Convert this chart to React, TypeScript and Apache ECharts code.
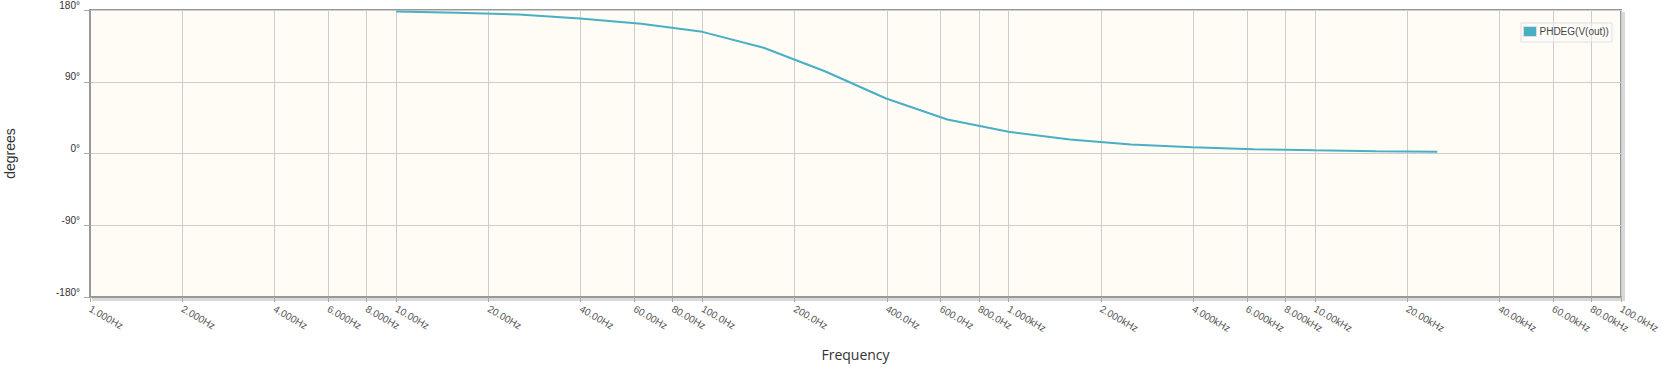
import React, { useEffect, useRef } from "react";
import * as echarts from "echarts";

const tickFreqs = [1, 2, 4, 6, 8, 10, 20, 40, 60, 80, 100, 200, 400, 600, 800, 1000, 2000, 4000, 6000, 8000, 10000, 20000, 40000, 60000, 80000, 100000];
const tickLabels = ["1.000Hz", "2.000Hz", "4.000Hz", "6.000Hz", "8.000Hz", "10.00Hz", "20.00Hz", "40.00Hz", "60.00Hz", "80.00Hz", "100.0Hz", "200.0Hz", "400.0Hz", "600.0Hz", "800.0Hz", "1.000kHz", "2.000kHz", "4.000kHz", "6.000kHz", "8.000kHz", "10.00kHz", "20.00kHz", "40.00kHz", "60.00kHz", "80.00kHz", "100.0kHz"];

const freqHz = [10, 15.85, 25.12, 39.81, 63.1, 100, 158.5, 251.2, 398.1, 631, 1000, 1585, 2512, 3981, 6310, 10000, 15850, 25120];
const phaseDeg = [178.1, 176.5, 174.4, 169.3, 162.7, 152.6, 132.6, 103.2, 69.0, 42.6, 27.2, 17.6, 11.3, 7.9, 5.4, 4.1, 2.9, 2.1];

const seriesName = "PHDEG(V(out))";

export default function App() {
  const ref = useRef<HTMLDivElement>(null);
  useEffect(() => {
    if (!ref.current) return;
    const chart = echarts.init(ref.current, null, { renderer: "svg" });
    const tickPos = tickFreqs.map((f) => Math.log10(f));
    const labelFor = (v: number) => {
      let best = 0;
      let bd = Infinity;
      tickPos.forEach((p, i) => {
        const d = Math.abs(p - v);
        if (d < bd) {
          bd = d;
          best = i;
        }
      });
      return tickLabels[best];
    };
    chart.setOption({
      animation: false,
      backgroundColor: "#ffffff",
      grid: {
        left: 90,
        top: 10,
        right: 41,
        bottom: 77,
        containLabel: false,
        outerBoundsMode: "none",
        show: true,
        backgroundColor: "#FFFCF5",
        borderColor: "#999999",
        borderWidth: 2,
        shadowColor: "rgba(0,0,0,0.15)",
        shadowOffsetX: 3,
        shadowOffsetY: 3,
        shadowBlur: 0,
      },
      legend: {
        show: true,
        left: 1521,
        top: 23,
        orient: "vertical",
        data: [seriesName],
        icon: "rect",
        itemWidth: 13,
        itemHeight: 10,
        itemGap: 0,
        padding: [3, 3, 5, 2],
        backgroundColor: "rgba(255,255,255,0.4)",
        borderColor: "#e0e0e0",
        borderWidth: 1,
        borderRadius: 0,
        itemStyle: { borderColor: "#dddddd", borderWidth: 1 },
        textStyle: {
          fontFamily: "Liberation Sans",
          fontSize: 10,
          color: "#444",
          padding: [0, 0, 8, -2],
        },
      },
      xAxis: {
        type: "value",
        min: 0,
        max: 5,
        name: "Frequency",
        nameLocation: "middle",
        nameGap: 50,
        nameTextStyle: { fontFamily: "Open Sans", fontSize: 14, color: "#333" },
        axisLine: { show: true, onZero: false, lineStyle: { color: "#999999", width: 2 } },
        axisTick: {
          show: true,
          length: 5,
          customValues: tickPos,
          lineStyle: { color: "#aaaaaa" },
        },
        axisLabel: {
          show: true,
          customValues: tickPos,
          rotate: -30,
          margin: 11,
          fontFamily: "Liberation Sans",
          fontSize: 10,
          color: "#555",
          formatter: (v: number) => labelFor(v),
        },
        splitLine: { show: true, lineStyle: { color: "#cccccc", width: 1 } },
      },
      yAxis: {
        type: "value",
        min: -180,
        max: 180,
        interval: 90,
        name: "degrees",
        nameLocation: "middle",
        nameGap: 73,
        nameTextStyle: { fontFamily: "Liberation Sans", fontSize: 14, color: "#333" },
        axisLine: { show: true, onZero: false, lineStyle: { color: "#999999", width: 2 } },
        axisTick: { show: true, length: 6, lineStyle: { color: "#aaaaaa" } },
        axisLabel: {
          margin: 10,
          fontFamily: "Liberation Sans",
          fontSize: 10,
          color: "#333",
          verticalAlign: "bottom",
          formatter: (v: number) => v + "°",
        },
        splitLine: { show: true, lineStyle: { color: "#cccccc", width: 1 } },
      },
      series: [
        {
          name: seriesName,
          type: "line",
          data: freqHz.map((f, i) => [Math.log10(f), phaseDeg[i]]),
          showSymbol: false,
          symbol: "none",
          color: "#4AAFC5",
          lineStyle: { color: "#4AAFC5", width: 2 },
        },
      ],
    });
    return () => chart.dispose();
  }, []);
  return (
    <div
      ref={ref}
      style={{ position: "absolute", left: 0, top: 0, width: 1662, height: 374 }}
    />
  );
}
